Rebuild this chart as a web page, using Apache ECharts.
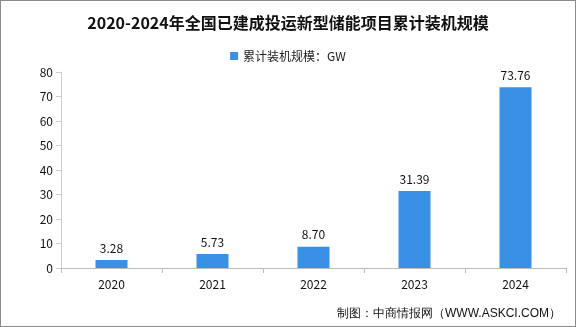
<!DOCTYPE html>
<html><head><meta charset="utf-8">
<script src="https://cdn.jsdelivr.net/npm/echarts@6/dist/echarts.min.js"></script>
<style>html,body{margin:0;padding:0;background:#fff;}
#c{position:absolute;left:0;top:0;width:574px;height:325px;border:1px solid #8a8a8a;}</style>
</head><body><div id="c"></div>
<script>
const categories = ['2020','2021','2022','2023','2024'];
const values = [3.28, 5.73, 8.70, 31.39, 73.76];
const seriesName = '累计装机规模：GW';
const chart = echarts.init(document.getElementById('c'));
const font = '"Noto Sans CJK SC", "DejaVu Sans", sans-serif';
chart.setOption({
  animation: false,
  title: {text: '2020-2024年全国已建成投运新型储能项目累计装机规模', left: 'center', top: 9,
    textStyle: {fontSize: 16, fontWeight: 'bold', color: '#111', fontFamily: font}},
  legend: {data: [seriesName], top: 44, left: 'center', itemWidth: 8, itemHeight: 8, icon: 'rect', itemGap: 6,
    textStyle: {fontSize: 12, color: '#222', fontFamily: font}},
  grid: {left: 60, right: 9, top: 71, bottom: 58},
  xAxis: {type: 'category', data: categories,
    axisLine: {lineStyle: {color: '#bbb'}}, axisTick: {show: true, lineStyle: {color: '#bbb'}},
    axisLabel: {color: '#111', fontSize: 12, margin: 10, fontFamily: font}},
  yAxis: {type: 'value', min: 0, max: 80, interval: 10,
    axisLine: {show: true, lineStyle: {color: '#ccc'}}, axisTick: {show: true, lineStyle: {color: '#ccc'}},
    splitLine: {show: false},
    axisLabel: {color: '#111', fontSize: 12, margin: 8, fontFamily: font}},
  series: [{name: seriesName, type: 'bar', data: values, barWidth: 32,
    itemStyle: {color: '#3a90e5'},
    label: {show: true, position: 'top', distance: 6, color: '#111', fontSize: 12, fontFamily: font,
      formatter: p => p.value.toFixed(2)}}],
  graphic: [{type: 'text', right: 14, bottom: 6,
    style: {text: '制图：中商情报网（WWW.ASKCI.COM）', fontSize: 12, fill: '#111', font: '12px ' + font}}]
});
</script></body></html>
